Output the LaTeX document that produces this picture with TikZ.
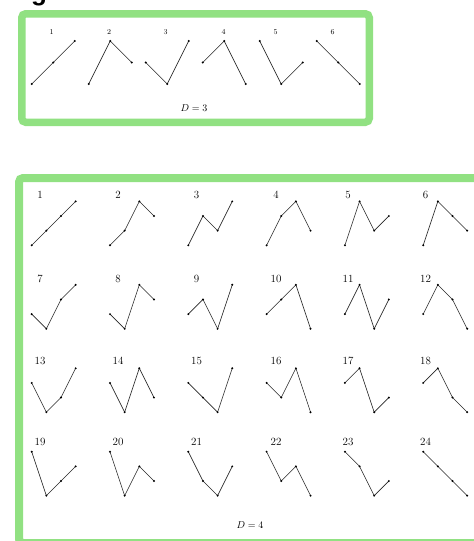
\documentclass[tikz,border=0pt]{standalone}
\usepackage{fontspec}
\newfontfamily\titlefont{Liberation Sans}
\definecolor{framegreen}{RGB}{145,225,130}
\tikzset{
  seg/.style={line width=0.6pt, draw=black!85},
  dotfill/.style={fill=black},
  lbl/.style={inner sep=0pt, font=\fontsize{11}{13}\selectfont},
  lblsmall/.style={inner sep=0pt, font=\fontsize{7.5}{9}\selectfont},
  dlbl/.style={inner sep=0pt, font=\fontsize{10}{12}\selectfont},
  frame/.style={draw=framegreen, line width=7.5pt, rounded corners=4pt},
}
% #1 name, #2 x of first point, #3 y of height 0, #4 step, #5 heights
\newcommand\ordpat[5]{%
  \foreach \h [count=\i from 0, remember=\i as \j (initially 0)] in {#5}{%
    \coordinate (#1-\i) at ({#2+\i*#4},{#3-\h*#4});
    \ifnum\i>0 \draw[seg] (#1-\j) -- (#1-\i);\fi
  }%
  \foreach \h [count=\i from 0] in {#5}{%
    \fill[dotfill] (#1-\i) circle (1.1pt);
  }%
}
\begin{document}
\begin{tikzpicture}[x=1pt,y=-1pt]
\useasboundingbox (0,0) rectangle (474,541);
\fill[white] (0,0) rectangle (474,541);
\node[anchor=base west, inner sep=0pt, font=\titlefont\bfseries\fontsize{26}{30}\selectfont] (title) at (31,0.5) {g};
% frames
\draw[frame] (21.75,13.75) rectangle (369.25,122.25);
\draw[frame, line width=8pt] (19,178) rectangle (482,543);
% D = 3
\foreach \hs [count=\n from 0] in {{0,1,2},{0,2,1},{1,0,2},{1,2,0},{2,0,1},{2,1,0}}{
  \pgfmathsetmacro\px{31.7+57*\n}
  \edef\tmp{\noexpand\ordpat{a\n}{\px}{84}{21.5}{\hs}}\tmp
  \pgfmathsetmacro\lx{{51.7,109,165.7,223.7,275.7,332.7}[\n]}
  \pgfmathtruncatemacro\k{\n+1}
  \node[lblsmall] (al\n) at (\lx,32.3) {\k};
}
\node[dlbl] (d3) at (194,108.3) {$D=3$};
% D = 4
\foreach \hs [count=\n from 0] in {
  {0,1,2,3},{0,1,3,2},{0,2,1,3},{0,2,3,1},{0,3,1,2},{0,3,2,1},
  {1,0,2,3},{1,0,3,2},{1,2,0,3},{1,2,3,0},{1,3,0,2},{1,3,2,0},
  {2,0,1,3},{2,0,3,1},{2,1,0,3},{2,1,3,0},{2,3,0,1},{2,3,1,0},
  {3,0,1,2},{3,0,2,1},{3,1,0,2},{3,1,2,0},{3,2,0,1},{3,2,1,0}}{
  \pgfmathtruncatemacro\c{mod(\n,6)}
  \pgfmathtruncatemacro\r{div(\n,6)}
  \pgfmathsetmacro\px{31.7+78.3*\c}
  \pgfmathsetmacro\py{245.3+83.45*\r}
  \edef\tmp{\noexpand\ordpat{b\n}{\px}{\py}{14.65}{\hs}}\tmp
  \pgfmathsetmacro\lx{{40,118,196.5,276,348,425.5}[\c]}
  \pgfmathsetmacro\ly{{195,278.7,360.7,441.7}[\r]}
  \pgfmathtruncatemacro\k{\n+1}
  \node[lbl] (bl\n) at (\lx,\ly) {\k};
}
\node[dlbl] (d4) at (250,525) {$D=4$};
\end{tikzpicture}
\end{document}
